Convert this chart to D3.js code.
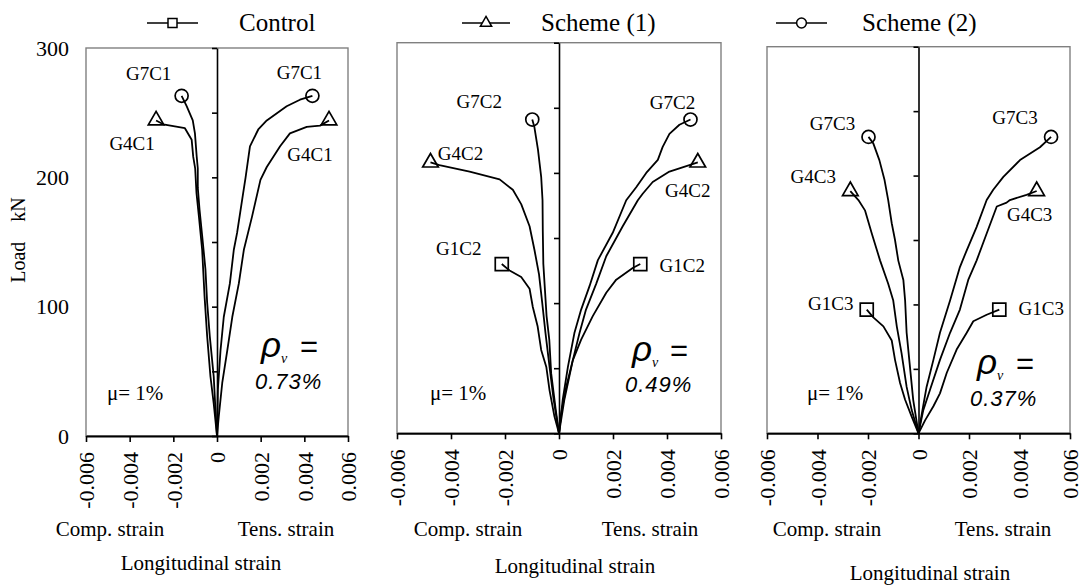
<!DOCTYPE html>
<html>
<head>
<meta charset="utf-8">
<script src="https://cdn.jsdelivr.net/npm/d3@7"></script>
<style>
  html, body { margin: 0; padding: 0; background: #fff; }
  svg { display: block; font-family: "Liberation Serif", "Times New Roman", serif; }
  svg text { font-family: "Liberation Serif", "Times New Roman", serif; }
</style>
</head>
<body>
<svg id="chart" width="1082" height="587"></svg>
<script>
// ---- axis ticks and labels ----
const strainTicks = [-0.006, -0.004, -0.002, 0, 0.002, 0.004, 0.006];
const loadTicks = [0, 100, 200, 300];
const loadMinorTicks = [0, 50, 100, 150, 200, 250, 300];
const panelTitles = ["Control", "Scheme (1)", "Scheme (2)"];
const ratioLabels = ["0.73%", "0.49%", "0.37%"];

// ---- Control: load (kN) vs longitudinal strain ----
const g7c1Comp = [[0,0],[-0.00007,20],[-0.00015,46],[-0.00033,77],[-0.00045,103],[-0.00053,129],[-0.00068,155],[-0.00080,175],[-0.00088,192],[-0.00088,207],[-0.00093,216],[-0.00101,234],[-0.00111,244],[-0.00139,255],[-0.00162,263]];
const g4c1Comp = [[0,0],[-0.00015,25],[-0.00030,46],[-0.00045,77],[-0.00057,108],[-0.00068,144],[-0.00083,170],[-0.00094,188],[-0.00100,207],[-0.00109,216],[-0.00116,229],[-0.00147,238],[-0.00246,241],[-0.00279,244]];
const g7c1Tens = [[0,0],[0.00004,36],[0.00016,66],[0.00031,92],[0.00059,118],[0.00077,144],[0.00092,157],[0.00120,188],[0.00131,200],[0.00151,224],[0.00189,237],[0.00228,244],[0.00319,255],[0.00380,260],[0.00437,263]];
const g4c1Tens = [[0,0],[0.00008,15],[0.00024,41],[0.00047,66],[0.00070,92],[0.00100,118],[0.00123,144],[0.00161,170],[0.00199,198],[0.00228,208],[0.00289,224],[0.00334,234],[0.00411,239],[0.00472,240],[0.00513,244]];

// ---- Scheme (1) ----
const g7c2Comp = [[0,0],[-0.00012,18],[-0.00029,46],[-0.00036,72],[-0.00046,90],[-0.00052,110],[-0.00058,130],[-0.00060,155],[-0.00061,179],[-0.00066,197],[-0.00078,218],[-0.00091,235],[-0.00099,241]];
const g4c2Comp = [[0,0],[-0.00020,26],[-0.00035,51],[-0.00050,77],[-0.00062,100],[-0.00074,122],[-0.00091,141],[-0.00109,159],[-0.00140,176],[-0.00171,187],[-0.00220,195],[-0.00331,201],[-0.00443,206],[-0.00476,208]];
const g1c2Comp = [[0,0],[-0.00017,13],[-0.00035,33],[-0.00047,51],[-0.00066,64],[-0.00079,82],[-0.00097,97],[-0.00109,111],[-0.00140,120],[-0.00183,125],[-0.00212,130]];
const g7c2Tens = [[0,0],[0.00014,26],[0.00033,51],[0.00057,77],[0.00082,95],[0.00113,113],[0.00144,133],[0.00199,154],[0.00249,179],[0.00286,189],[0.00323,200],[0.00366,210],[0.00384,220],[0.00409,230],[0.00446,237],[0.00487,241]];
const g4c2Tens = [[0,0],[0.00020,26],[0.00051,56],[0.00076,77],[0.00100,95],[0.00138,115],[0.00175,136],[0.00236,159],[0.00292,179],[0.00310,184],[0.00347,193],[0.00409,201],[0.00483,206],[0.00514,208]];
const g1c2Tens = [[0,0],[0.00008,15],[0.00027,36],[0.00051,56],[0.00082,72],[0.00125,90],[0.00175,108],[0.00212,118],[0.00273,127],[0.00301,130]];

// ---- Scheme (2) ----
const g7c3Comp = [[0,0],[-0.00021,26],[-0.00034,52],[-0.00047,78],[-0.00053,103],[-0.00060,119],[-0.00080,134],[-0.00093,150],[-0.00106,163],[-0.00120,181],[-0.00135,197],[-0.00155,212],[-0.00179,225],[-0.00198,230]];
const g4c3Comp = [[0,0],[-0.00027,18],[-0.00047,36],[-0.00067,62],[-0.00086,83],[-0.00100,103],[-0.00120,116],[-0.00152,134],[-0.00185,155],[-0.00212,173],[-0.00238,181],[-0.00270,188]];
const g1c3Comp = [[0,0],[-0.00027,13],[-0.00053,26],[-0.00073,39],[-0.00093,57],[-0.00106,72],[-0.00139,83],[-0.00179,90],[-0.00205,96]];
const g7c3Tens = [[0,0],[0.00013,15],[0.00032,36],[0.00059,57],[0.00085,78],[0.00125,103],[0.00164,129],[0.00191,142],[0.00230,160],[0.00270,181],[0.00296,189],[0.00336,199],[0.00402,212],[0.00481,222],[0.00525,230]];
const g4c3Tens = [[0,0],[0.00019,18],[0.00046,34],[0.00085,57],[0.00125,78],[0.00164,96],[0.00197,119],[0.00230,134],[0.00270,155],[0.00310,176],[0.00349,179],[0.00362,181],[0.00428,185],[0.00468,188]];
const g1c3Tens = [[0,0],[0.00026,10],[0.00059,21],[0.00085,31],[0.00112,47],[0.00151,65],[0.00191,78],[0.00217,87],[0.00270,92],[0.00320,96]];

// ---- layout of the three panels ----
const panels = [
  {
    title: panelTitles[0], ratio: ratioLabels[0], legendSym: "square",
    left: 86, right: 348, top: 48, bottom: 436, showLoad: true,
    legend: { x1: 147, x2: 198, y: 23, tx: 239, ty: 31 },
    mu: { x: 107, y: 400 }, rho: { x: 261, y: 357, eq: 300, rx: 255, ry: 389 },
    comp: 110, tens: 286, longX: 201, capY: 536, longY: 570,
    curves: [
      { data: g7c1Comp, sym: "circle",   name: "G7C1", dx: -33, dy: -22 },
      { data: g4c1Comp, sym: "triangle", name: "G4C1", dx: -24, dy: 23 },
      { data: g7c1Tens, sym: "circle",   name: "G7C1", dx: -13, dy: -23 },
      { data: g4c1Tens, sym: "triangle", name: "G4C1", dx: -19, dy: 34 }
    ]
  },
  {
    title: panelTitles[1], ratio: ratioLabels[1], legendSym: "triangle",
    left: 397, right: 721, top: 42.7, bottom: 433.3, showLoad: false,
    legend: { x1: 462, x2: 510, y: 23, tx: 541, ty: 31 },
    mu: { x: 430, y: 400 }, rho: { x: 632, y: 361, eq: 670, rx: 625, ry: 392 },
    comp: 468, tens: 650, longX: 575, capY: 536, longY: 573,
    curves: [
      { data: g7c2Comp, sym: "circle",   name: "G7C2", dx: -53, dy: -18 },
      { data: g4c2Comp, sym: "triangle", name: "G4C2", dx: 30,  dy: -9 },
      { data: g1c2Comp, sym: "square",   name: "G1C2", dx: -43, dy: -16 },
      { data: g7c2Tens, sym: "circle",   name: "G7C2", dx: -18, dy: -17 },
      { data: g4c2Tens, sym: "triangle", name: "G4C2", dx: -10, dy: 28 },
      { data: g1c2Tens, sym: "square",   name: "G1C2", dx: 42,  dy: 1 }
    ]
  },
  {
    title: panelTitles[2], ratio: ratioLabels[2], legendSym: "circle",
    left: 767, right: 1070, top: 46.7, bottom: 433.3, showLoad: false,
    legend: { x1: 776, x2: 827, y: 23, tx: 862, ty: 31 },
    mu: { x: 807, y: 400 }, rho: { x: 977, y: 374, eq: 1016, rx: 970, ry: 406 },
    comp: 827, tens: 1003, longX: 930, capY: 536, longY: 580,
    curves: [
      { data: g7c3Comp, sym: "circle",   name: "G7C3", dx: -36, dy: -13 },
      { data: g4c3Comp, sym: "triangle", name: "G4C3", dx: -37, dy: -15 },
      { data: g1c3Comp, sym: "square",   name: "G1C3", dx: -36, dy: -6 },
      { data: g7c3Tens, sym: "circle",   name: "G7C3", dx: -36, dy: -19 },
      { data: g4c3Tens, sym: "triangle", name: "G4C3", dx: -7,  dy: 23 },
      { data: g1c3Tens, sym: "square",   name: "G1C3", dx: 42,  dy: -1 }
    ]
  }
];

const symbolTypes = { circle: d3.symbolCircle, triangle: d3.symbolTriangle, square: d3.symbolSquare };
const markerSize = { circle: 133, triangle: 105, square: 169 };
const legendSize = { circle: 75, triangle: 55, square: 81 };
const fmtStrain = d => d === 0 ? "0" : d.toFixed(3);
const SERIF = "Liberation Serif, Times New Roman, serif";
const SANS = "Liberation Sans, Arial, sans-serif";

const svg = d3.select("#chart");
svg.append("rect").attr("width", 1082).attr("height", 587).attr("fill", "#fff");

panels.forEach(p => {
  const x = d3.scaleLinear().domain([-0.006, 0.006]).range([p.left, p.right]);
  const y = d3.scaleLinear().domain([0, 300]).range([p.bottom, p.top]);
  const g = svg.append("g");

  // plot frame
  g.append("rect")
    .attr("x", p.left).attr("y", p.top)
    .attr("width", p.right - p.left).attr("height", p.bottom - p.top)
    .attr("fill", "none").attr("stroke", "#808080").attr("stroke-width", 1.4);

  // vertical load axis through zero strain
  const vAxis = g.append("g")
    .attr("transform", `translate(${x(0)},0)`)
    .call(d3.axisLeft(y).tickValues(loadMinorTicks).tickSize(5).tickSizeOuter(0).tickFormat(""));
  vAxis.selectAll("path, line").attr("stroke", "#000").attr("stroke-width", 1.6);

  // horizontal strain axis
  const hAxis = g.append("g")
    .attr("transform", `translate(0,${p.bottom})`)
    .call(d3.axisBottom(x).tickValues(strainTicks).tickSize(6).tickSizeOuter(0).tickFormat(fmtStrain))
    .attr("font-family", SERIF).attr("font-size", 22);
  hAxis.selectAll("path").attr("stroke", "#000").attr("stroke-width", 2);
  hAxis.selectAll("line").attr("stroke", "#000").attr("stroke-width", 1.6);
  hAxis.selectAll("text")
    .attr("transform", "rotate(-90)")
    .attr("x", -16).attr("y", 0).attr("dy", "0.35em")
    .attr("text-anchor", "end")
    .attr("fill", "#000");

  // load tick labels (first panel only)
  if (p.showLoad) {
    const lAxis = g.append("g")
      .attr("transform", `translate(${p.left},0)`)
      .call(d3.axisLeft(y).tickValues(loadTicks).tickSize(0).tickPadding(17))
      .attr("font-family", SERIF).attr("font-size", 22);
    lAxis.select(".domain").remove();
    lAxis.selectAll("text").attr("fill", "#000");

    svg.append("text")
      .attr("transform", `translate(25,240) rotate(-90)`)
      .attr("text-anchor", "middle")
      .attr("font-size", 20)
      .style("white-space", "pre")
      .text("Load    kN");
  }

  // load-strain curves
  const line = d3.line().x(d => x(d[0])).y(d => y(d[1]));
  p.curves.forEach(c => {
    g.append("path")
      .attr("d", line(c.data))
      .attr("fill", "none").attr("stroke", "#000")
      .attr("stroke-width", 1.8).attr("stroke-linejoin", "round");
    const end = c.data[c.data.length - 1];
    const ex = x(end[0]), ey = y(end[1]);
    g.append("path")
      .attr("transform", `translate(${ex},${ey})`)
      .attr("d", d3.symbol().type(symbolTypes[c.sym]).size(markerSize[c.sym])())
      .attr("fill", "none").attr("stroke", "#000").attr("stroke-width", 1.7);
    g.append("text")
      .attr("x", ex + c.dx).attr("y", ey + c.dy + 6.5)
      .attr("text-anchor", "middle")
      .attr("font-size", 19)
      .text(c.name);
  });

  // legend entry
  g.append("line")
    .attr("x1", p.legend.x1).attr("x2", p.legend.x2)
    .attr("y1", p.legend.y).attr("y2", p.legend.y)
    .attr("stroke", "#000").attr("stroke-width", 1.6);
  g.append("path")
    .attr("transform", `translate(${(p.legend.x1 + p.legend.x2) / 2},${p.legend.y})`)
    .attr("d", d3.symbol().type(symbolTypes[p.legendSym]).size(legendSize[p.legendSym])())
    .attr("fill", "#fff").attr("stroke", "#000").attr("stroke-width", 1.5);
  g.append("text")
    .attr("x", p.legend.tx).attr("y", p.legend.ty)
    .attr("font-size", 25)
    .text(p.title);

  // reinforcement annotations
  g.append("text")
    .attr("x", p.mu.x).attr("y", p.mu.y)
    .attr("font-size", 21)
    .text("\u03bc= 1%");
  const rho = g.append("text")
    .attr("x", p.rho.x).attr("y", p.rho.y)
    .style("font-family", SANS);
  rho.append("tspan").style("font-style", "italic").style("font-size", "35px").text("\u03c1");
  rho.append("tspan").attr("dy", 6).style("font-style", "italic").style("font-size", "14px")
    .style("font-family", SERIF).text("v");
  g.append("text")
    .attr("x", p.rho.eq).attr("y", p.rho.y)
    .style("font-family", SANS)
    .style("font-size", "31px")
    .text("=");
  g.append("text")
    .attr("x", p.rho.rx).attr("y", p.rho.ry)
    .style("font-family", SANS)
    .style("font-style", "italic")
    .style("font-size", "22px")
    .style("letter-spacing", "1px")
    .text(p.ratio);

  // strain captions
  g.append("text").attr("x", p.comp).attr("y", p.capY)
    .attr("text-anchor", "middle").attr("font-size", 21).text("Comp. strain");
  g.append("text").attr("x", p.tens).attr("y", p.capY)
    .attr("text-anchor", "middle").attr("font-size", 21).text("Tens. strain");
  g.append("text").attr("x", p.longX).attr("y", p.longY)
    .attr("text-anchor", "middle").attr("font-size", 21).text("Longitudinal strain");
});
</script>
</body>
</html>
